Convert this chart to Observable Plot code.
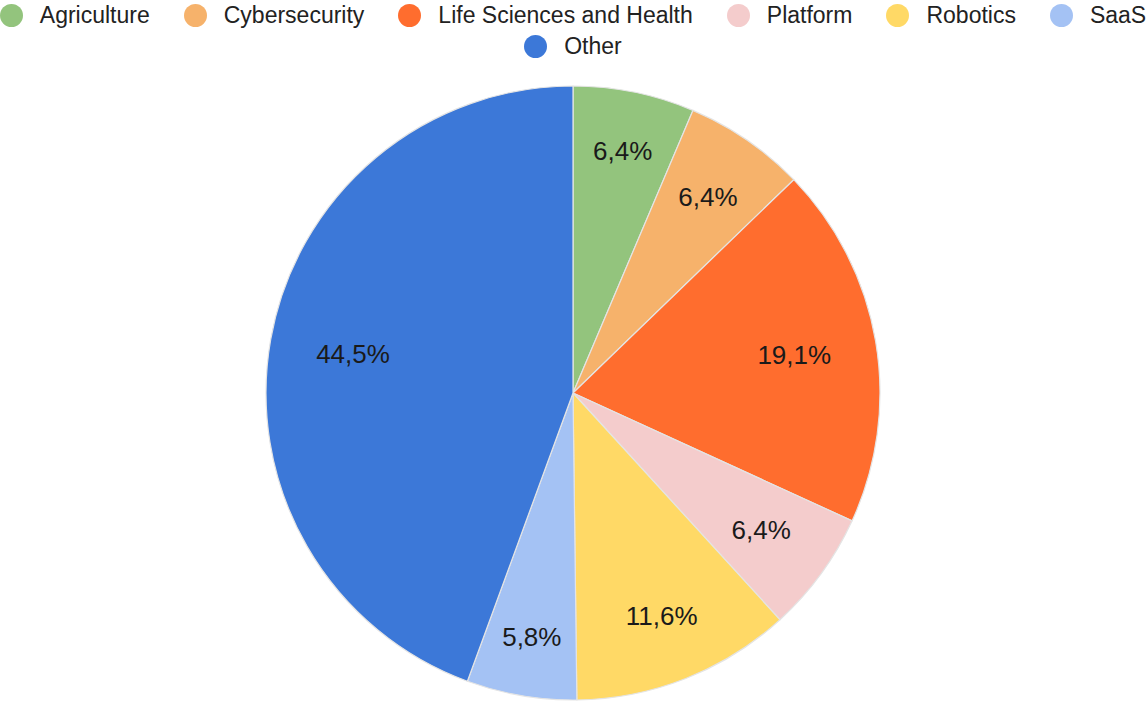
<!DOCTYPE html>
<html>
<head>
<meta charset="utf-8">
<script src="https://cdn.jsdelivr.net/npm/d3@7"></script>
<script src="https://cdn.jsdelivr.net/npm/@observablehq/plot@0.6"></script>
<style>
  html, body { margin: 0; padding: 0; background: #fff; overflow: hidden; width: 1146px; height: 704px; }
  body { font-family: Arial, "Liberation Sans", sans-serif; }
  #legend { height: 66px; width: 1146px; overflow: visible; }
  .row { display: flex; justify-content: center; align-items: center; height: 31px; white-space: nowrap; }
  .item { display: flex; align-items: center; margin: 0 17px; font-size: 23px; color: #222; }
  .dot { width: 23px; height: 23px; border-radius: 50%; margin-right: 17px; flex: none; }
  #chart svg { display: block; }
</style>
</head>
<body>
<div id="legend"></div>
<div id="chart"></div>
<script>
const categories = ["Agriculture", "Cybersecurity", "Life Sciences and Health", "Platform", "Robotics", "SaaS", "Other"];
const shares = [6.4, 6.4, 19.1, 6.4, 11.6, 5.8, 44.5];
const colors = ["#93c47d", "#f6b26b", "#ff6d2e", "#f4cccc", "#ffd966", "#a4c2f4", "#3c78d8"];
const legendRows = [categories.slice(0, 6), categories.slice(6)];

const color = Plot.scale({color: {type: "ordinal", domain: categories, range: colors}});

// legend
const legend = document.getElementById("legend");
for (const row of legendRows) {
  const r = document.createElement("div");
  r.className = "row";
  for (const c of row) {
    const it = document.createElement("div");
    it.className = "item";
    const d = document.createElement("span");
    d.className = "dot";
    d.style.background = color.apply(c);
    it.appendChild(d);
    it.appendChild(document.createTextNode(c));
    r.appendChild(it);
  }
  legend.appendChild(r);
}

const W = 1146, H = 638, R = 307;
const labelFont = 26;
const ctx = document.createElement("canvas").getContext("2d");
ctx.font = `${labelFont}px Arial, 'Liberation Sans', sans-serif`;

const data = categories.map((c, i) => ({category: c, share: shares[i], label: shares[i].toFixed(1).replace(".", ",") + "%"}));
const arcs = d3.pie().sort(null).value(d => d.share)(data);
// place each label's box so that its outer edge sits at ~0.853 of the radius
const labels = arcs.map(a => {
  const m = (a.startAngle + a.endAngle) / 2;
  const w = ctx.measureText(a.data.label).width, h = labelFont * 0.73;
  const ext = Math.abs(w / 2 * Math.sin(m)) + Math.abs(h / 2 * Math.cos(m));
  const r = (0.853 * R - ext) / R;
  return {label: a.data.label, x: r * Math.sin(m), y: r * Math.cos(m)};
});

function pieMark(...args) {
  const scales = args.find(a => a && typeof a.x === "function" && typeof a.y === "function");
  const cx = scales.x(0), cy = scales.y(0);
  const Rp = scales.x(1) - scales.x(0);
  const g = d3.create("svg:g").attr("transform", `translate(${cx},${cy})`);
  const arc = d3.arc().innerRadius(0).outerRadius(Rp);
  g.selectAll("path").data(arcs).join("path")
    .attr("d", arc)
    .attr("fill", d => color.apply(d.data.category))
    .attr("stroke", "#e4e4e4")
    .attr("stroke-width", 1.2)
    .attr("stroke-linejoin", "round");
  return g.node();
}

const chart = Plot.plot({
  width: W,
  height: H,
  marginLeft: W / 2 - R,
  marginRight: W / 2 - R,
  marginTop: 20,
  marginBottom: H - 20 - 2 * R,
  x: {domain: [-1, 1], axis: null},
  y: {domain: [-1, 1], axis: null},
  style: {fontFamily: "Arial, 'Liberation Sans', sans-serif", background: "white"},
  marks: [
    pieMark,
    Plot.text(labels, {x: "x", y: "y", text: "label", fontSize: labelFont, fill: "#1a1a1a"})
  ]
});
document.getElementById("chart").appendChild(chart);
</script>
</body>
</html>
